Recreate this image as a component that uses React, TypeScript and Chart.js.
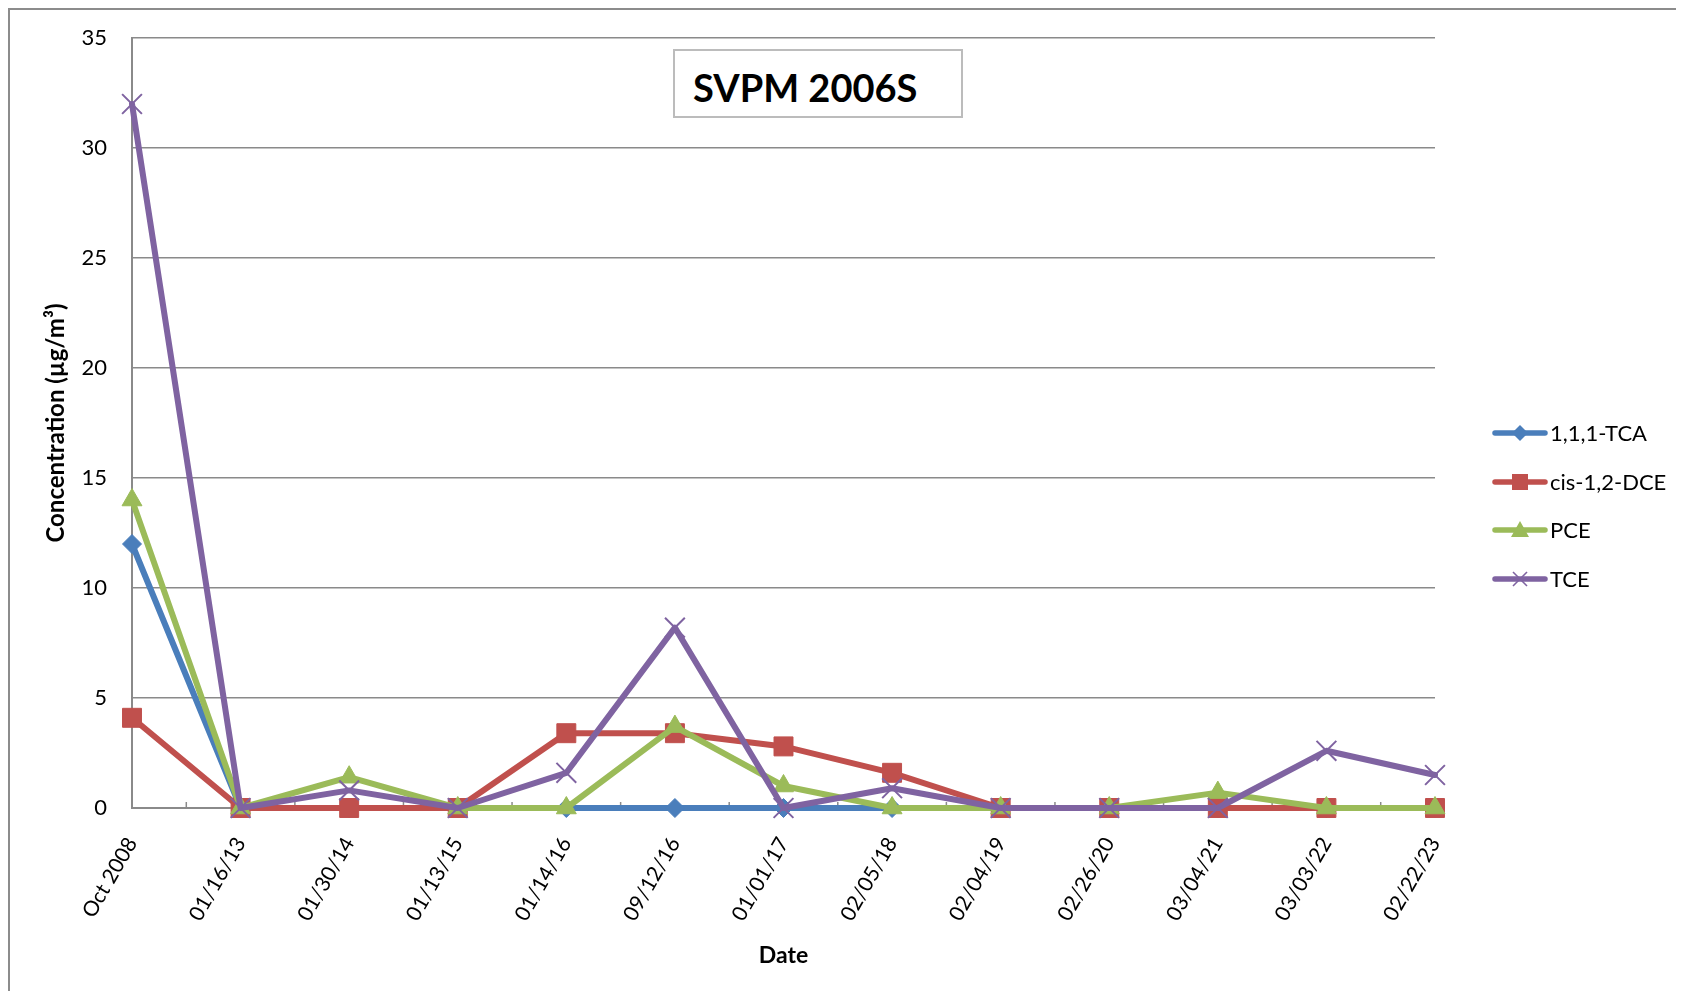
import React, { useEffect, useRef } from "react";
import { Chart, registerables } from "chart.js";

Chart.register(...registerables);
Chart.defaults.font.family = "Lato, 'Noto Sans', sans-serif";

const categories = [
  "Oct 2008", "01/16/13", "01/30/14", "01/13/15", "01/14/16", "09/12/16", "01/01/17",
  "02/05/18", "02/04/19", "02/26/20", "03/04/21", "03/03/22", "02/22/23",
];
const tcaValues = [12, 0, 0, 0, 0, 0, 0, 0, 0, 0, 0, 0, 0];
const dceValues = [4.1, 0, 0, 0, 3.4, 3.4, 2.8, 1.6, 0, 0, 0, 0, 0];
const pceValues = [14, 0, 1.4, 0, 0, 3.7, 1.0, 0, 0, 0, 0.7, 0, 0];
const tceValues = [32, 0, 0.8, 0, 1.6, 8.2, 0, 0.9, 0, 0, 0, 2.6, 1.5];
const seriesNames = ["1,1,1-TCA", "cis-1,2-DCE", "PCE", "TCE"];
const yMin = 0;
const yMax = 35;
const yStep = 5;
const chartTitle = "SVPM 2006S";
const xTitle = "Date";
const yTitle = "Concentration (µg/m³)";

const BLUE = "#4A7EBB";
const RED = "#C0504D";
const GREEN = "#9BBB59";
const PURPLE = "#7F63A1";
const GRID = "#8a8a8a";

function LegendIcon({ kind, color }: { kind: string; color: string }) {
  let marker: any = null;
  if (kind === "diamond") marker = <polygon points="29,4 37,12 29,20 21,12" fill={color} />;
  if (kind === "square") marker = <rect x={21} y={4} width={16} height={16} fill={color} />;
  if (kind === "triangle") marker = <polygon points="29,3 38,19 20,19" fill={color} />;
  if (kind === "cross")
    marker = (
      <g stroke={color} strokeWidth={1.6}>
        <line x1={22} y1={5} x2={36} y2={19} />
        <line x1={36} y1={5} x2={22} y2={19} />
      </g>
    );
  return (
    <svg width={58} height={24} style={{ display: "block" }}>
      <line x1={4} y1={12} x2={54} y2={12} stroke={color} strokeWidth={5.5} strokeLinecap="round" />
      {marker}
    </svg>
  );
}

export default function App() {
  const ref = useRef<HTMLCanvasElement>(null);

  useEffect(() => {
    const canvas = ref.current!;
    const midTicks = {
      id: "midTicks",
      beforeDatasetsDraw(chart: any) {
        const x = chart.scales.x;
        const c = chart.ctx;
        c.save();
        c.strokeStyle = GRID;
        c.lineWidth = 1.5;
        for (let i = 0; i < categories.length - 1; i++) {
          const px = (x.getPixelForValue(i) + x.getPixelForValue(i + 1)) / 2;
          c.beginPath();
          c.moveTo(px, x.top);
          c.lineTo(px, x.top - 6);
          c.stroke();
        }
        c.restore();
      },
    };

    const common = {
      fill: false,
      tension: 0,
      borderWidth: 6,
      borderJoinStyle: "round" as const,
      borderCapStyle: "round" as const,
      clip: false as const,
    };

    const chart = new Chart(canvas, {
      type: "line",
      data: {
        labels: categories,
        datasets: [
          {
            ...common,
            label: seriesNames[0],
            data: tcaValues,
            borderColor: BLUE,
            backgroundColor: BLUE,
            pointStyle: "rectRot",
            pointRadius: 9.5,
            pointBorderWidth: 1,
            pointBackgroundColor: BLUE,
            pointBorderColor: BLUE,
            order: 4,
          },
          {
            ...common,
            label: seriesNames[1],
            data: dceValues,
            borderColor: RED,
            backgroundColor: RED,
            pointStyle: "rect",
            pointRadius: 13.4,
            pointBorderWidth: 1,
            pointBackgroundColor: RED,
            pointBorderColor: RED,
            order: 3,
          },
          {
            ...common,
            label: seriesNames[2],
            data: pceValues,
            borderColor: GREEN,
            backgroundColor: GREEN,
            pointStyle: "triangle",
            pointRadius: 11.5,
            pointBorderWidth: 1,
            pointBackgroundColor: GREEN,
            pointBorderColor: GREEN,
            order: 2,
          },
          {
            ...common,
            label: seriesNames[3],
            data: tceValues,
            borderColor: PURPLE,
            backgroundColor: PURPLE,
            pointStyle: "crossRot",
            pointRadius: 14,
            pointBorderWidth: 2,
            pointBackgroundColor: PURPLE,
            pointBorderColor: PURPLE,
            order: 1,
          },
        ],
      },
      options: {
        responsive: false,
        animation: false,
        events: [],
        layout: { padding: { left: 28, top: 28, right: 241, bottom: 18 } },
        plugins: {
          legend: { display: false },
          tooltip: { enabled: false },
          title: { display: false },
        },
        scales: {
          x: {
            grid: { display: false, drawTicks: false },
            border: { display: true, color: GRID, width: 2 },
            ticks: {
              minRotation: 60,
              maxRotation: 60,
              autoSkip: false,
              padding: 25,
              color: "#000",
              font: { size: 21 },
            },
            title: {
              display: true,
              text: xTitle,
              color: "#000",
              font: { size: 23, weight: "bold" },
              padding: { top: 4, bottom: 4 },
            },
            afterFit(s: any) {
              s.height = 165;
            },
          },
          y: {
            min: yMin,
            max: yMax,
            ticks: { stepSize: yStep, padding: 0, color: "#000", font: { size: 22 } },
            grid: {
              color: GRID,
              lineWidth: 1.5,
              drawTicks: true,
              tickLength: 25,
              tickColor: "rgba(0,0,0,0)",
            },
            border: { display: true, color: GRID, width: 2 },
            title: {
              display: true,
              text: yTitle,
              color: "#000",
              font: { size: 24, weight: "bold" },
              padding: { top: 4, bottom: 4 },
            },
            afterFit(s: any) {
              s.width = 94;
            },
          },
        },
      },
      plugins: [midTicks],
    });
    return () => chart.destroy();
  }, []);

  const legendKinds = ["diamond", "square", "triangle", "cross"];
  const legendColors = [BLUE, RED, GREEN, PURPLE];

  return (
    <div
      style={{
        position: "relative",
        width: 1668,
        height: 983,
        boxSizing: "border-box",
        borderLeft: "2px solid #8c8c8c",
        borderTop: "2px solid #8c8c8c",
        fontFamily: "Lato, 'Noto Sans', sans-serif",
        background: "#fff",
      }}
    >
      <canvas
        ref={ref}
        width={1666}
        height={981}
        style={{ position: "absolute", left: 0, top: 0, width: 1666, height: 981 }}
      />
      <div
        style={{
          position: "absolute",
          left: 663,
          top: 39,
          width: 290,
          height: 69,
          boxSizing: "border-box",
          border: "2px solid #bcbcbc",
          background: "#fff",
          display: "flex",
          alignItems: "center",
          paddingLeft: 18,
          paddingTop: 6,
          fontWeight: 700,
          fontSize: 38,
          color: "#000",
          whiteSpace: "nowrap",
        }}
      >
        {chartTitle}
      </div>
      {seriesNames.map((name, i) => (
        <div
          key={name}
          style={{
            position: "absolute",
            left: 1481,
            top: 423 + i * 48.5 - 12,
            height: 24,
            display: "flex",
            alignItems: "center",
            whiteSpace: "nowrap",
            fontSize: 22,
            color: "#000",
          }}
        >
          <LegendIcon kind={legendKinds[i]} color={legendColors[i]} />
          <span style={{ marginLeft: 1, lineHeight: "24px" }}>{name}</span>
        </div>
      ))}
    </div>
  );
}
